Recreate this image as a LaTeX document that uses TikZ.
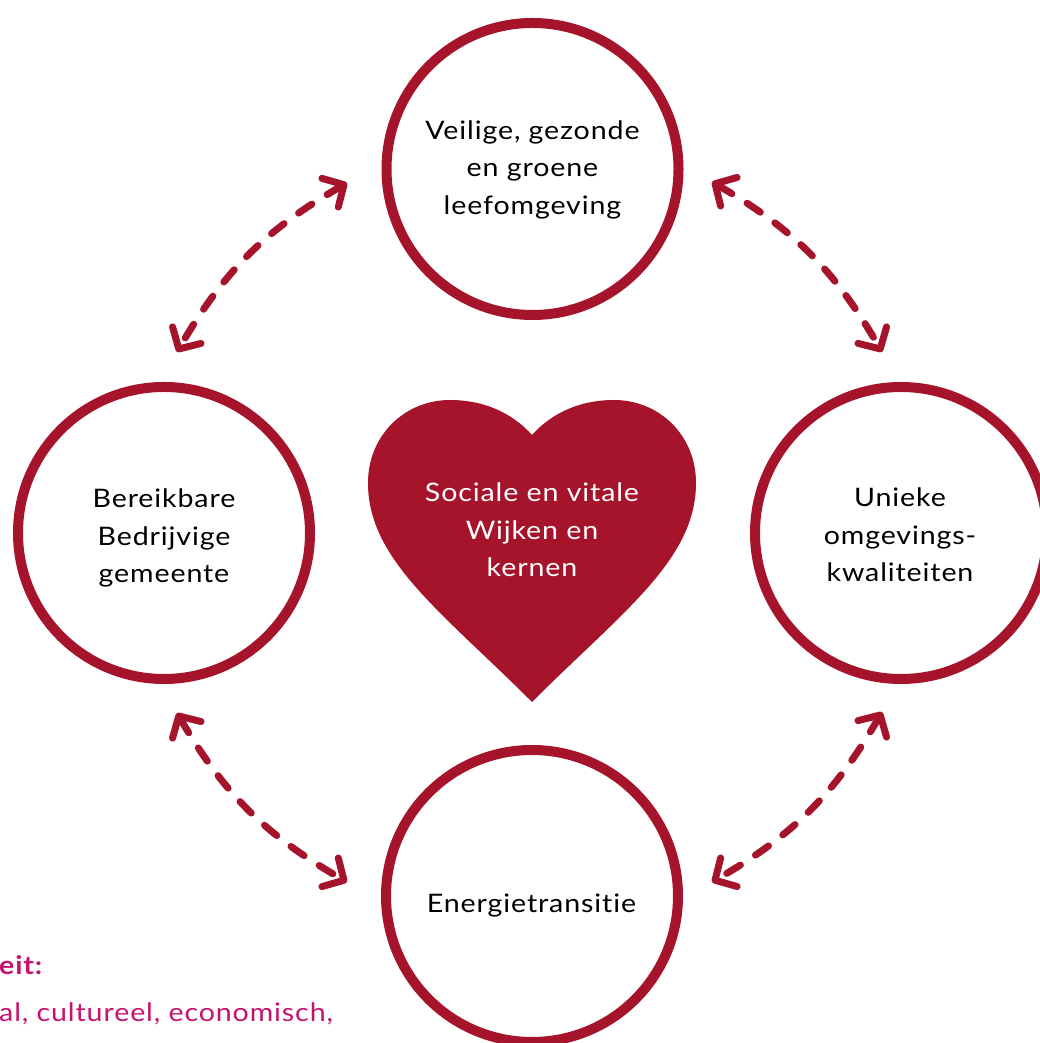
\documentclass[tikz,border=0pt]{standalone}
\usepackage{fontspec}
\setmainfont{Lato}[FakeStretch=1.12,LetterSpace=3.5,Ligatures=CommonOff]
\usetikzlibrary{calc,arrows.meta}
\definecolor{wine}{RGB}{166,20,44}
\definecolor{berry}{RGB}{196,18,110}
\begin{document}
\begin{tikzpicture}[x=1pt,y=1pt,
  ring/.style={circle,draw=wine,line width=10pt,minimum size=292pt,inner sep=0pt,outer sep=0pt},
  lbl/.style={align=center,font=\fontsize{25.5}{37.5}\selectfont,text=black,inner sep=0pt},
  note/.style={anchor=base west,inner sep=0pt,font=\fontsize{25.5}{30}\selectfont,text=berry},
  link/.style={draw=wine,line width=7pt,line cap=round,dash pattern=on 16pt off 18pt,
    {Straight Barb[length=16pt,width=33pt,round]}-{Straight Barb[length=16pt,width=33pt,round]}},
]
\useasboundingbox (0,0) rectangle (1040,1043);

% circles
\node[ring] (top) at (532.5,874) {};
\node[ring] (left) at (164,510) {};
\node[ring] (right) at (901,510) {};
\node[ring] (bottom) at (532,147) {};

% heart
\fill[wine] (532,341) .. controls (442,431) and (368,483) .. (368,560)
  .. controls (368,608) and (405,643) .. (450,643)
  .. controls (490,643) and (517,625) .. (532,608)
  .. controls (547,625) and (574,643) .. (614,643)
  .. controls (659,643) and (696,608) .. (696,560)
  .. controls (696,483) and (622,431) .. (532,341) -- cycle;

% labels
\node[lbl] (ttop) at (532.5,873.5) {Veilige, gezonde\\en groene\\leefomgeving};
\node[lbl] (tleft) at (164,505) {Bereikbare\\Bedrijvige\\gemeente};
\node[lbl] (tright) at (900,508) {Unieke\\omgevings-\\kwaliteiten};
\node[lbl,text=white] (theart) at (532,513) {Sociale en vitale\\Wijken en\\kernen};
\node[lbl] (tbottom) at (531.5,137) {Energietransitie};

% connectors
\coordinate (tlA) at ($(top)+(-185.5,-14)$);
\coordinate (tlB) at ($(left)+(13,181)$);
\coordinate (trA) at ($(top)+(179.5,-13)$);
\coordinate (trB) at ($(right)+(-19,181)$);
\coordinate (brA) at ($(right)+(-19,-179)$);
\coordinate (brB) at ($(bottom)+(180,14)$);
\coordinate (blA) at ($(left)+(13,-180)$);
\coordinate (blB) at ($(bottom)+(-185,14)$);
\draw[link] (tlA) to[bend right=15] (tlB);
\draw[link] (trA) to[bend left=15] (trB);
\draw[link] (brA) to[bend left=15] (brB);
\draw[link] (blA) to[bend right=15] (blB);

% cut-off note
\node[note,font=\fontsize{25.5}{30}\selectfont\bfseries] (n1) at (-1,68) {eit:};
\node[note] (n2) at (-1,21) {al, cultureel, economisch,};
\end{tikzpicture}
\end{document}
